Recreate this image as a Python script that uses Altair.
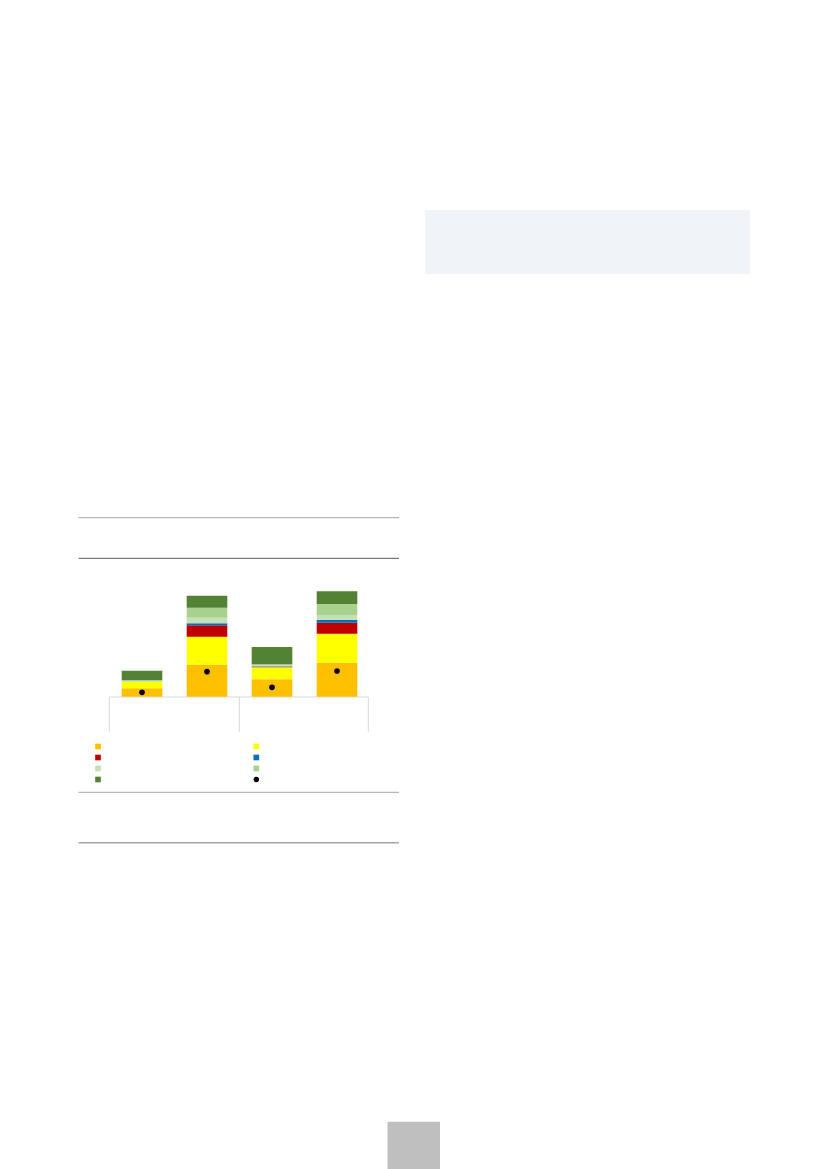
import altair as alt
import pandas as pd

# ---- data (no visible text in the picture) ----
categories = ["A-1", "A-2", "B-1", "B-2"]
series_names = ["Series 1", "Series 2", "Series 3", "Series 4",
                "Series 5", "Series 6", "Series 7"]
series_colors = ["#FFC000", "#FFFF00", "#C00000", "#0070C0",
                 "#C5E0B4", "#A9D18E", "#548235"]
s1 = [8.4, 32.0, 17.4, 34.0]
s2 = [6.6, 28.0, 12.0, 29.0]
s3 = [0.0, 11.4, 0.6, 11.0]
s4 = [0.0, 2.0, 0.4, 2.7]
s5 = [0.8, 5.6, 1.0, 5.0]
s6 = [0.8, 10.0, 1.0, 11.0]
s7 = [9.3, 12.0, 17.3, 12.7]
dot_name = "Total"
dot_values = [4.4, 25.0, 9.4, 25.7]

all_series = [s1, s2, s3, s4, s5, s6, s7]
rows = []
for idx, (name, vals) in enumerate(zip(series_names, all_series)):
    for cat, v in zip(categories, vals):
        rows.append({"category": cat, "series": name, "idx": idx, "value": v})
df = pd.DataFrame(rows)
dot_df = pd.DataFrame({"category": categories, "value": dot_values})
legend_df = pd.DataFrame({"name": series_names + [dot_name],
                          "i": list(range(len(series_names) + 1))})

x_scale = alt.Scale(domain=categories, range=[101.5, 361.5],
                    paddingInner=0.375, paddingOuter=0.1875)
y_scale = alt.Scale(domain=[0, 110], range=[688.7, 578.7], nice=False, zero=True)

bars = alt.Chart(df).mark_bar(opacity=1).encode(
    x=alt.X("category:N", scale=x_scale, axis=None),
    y=alt.Y("value:Q", scale=y_scale, axis=None, stack="zero"),
    color=alt.Color("series:N", scale=alt.Scale(domain=series_names, range=series_colors), legend=None),
    order=alt.Order("idx:Q"),
)

dots = alt.Chart(dot_df).mark_circle(size=32, color="black", opacity=1).encode(
    x=alt.X("category:N", scale=x_scale, axis=None),
    y=alt.Y("value:Q", scale=y_scale, axis=None),
)

leg_x = alt.Scale(domain=[0, 1], range=[90, 248.3])
leg_y = alt.Scale(domain=[0, 3], range=[738.5, 771.5])

leg_sq = alt.Chart(legend_df).transform_filter("datum.i < 7").transform_calculate(
    col="datum.i % 2", row="floor(datum.i / 2)"
).mark_square(size=32, opacity=1).encode(
    x=alt.X("col:Q", scale=leg_x, axis=None),
    y=alt.Y("row:Q", scale=leg_y, axis=None),
    color=alt.Color("name:N", scale=alt.Scale(domain=series_names, range=series_colors), legend=None),
)
leg_dot = alt.Chart(legend_df).transform_filter("datum.i == 7").transform_calculate(
    col="datum.i % 2", row="floor(datum.i / 2)"
).mark_circle(size=30, color="black", opacity=1).encode(
    x=alt.X("col:Q", scale=leg_x, axis=None),
    y=alt.Y("row:Q", scale=leg_y, axis=None),
)

one = pd.DataFrame({"d": [0]})


def hrule(y, color, w=1.0):
    return alt.Chart(one).mark_rule(color=color, strokeWidth=w).encode(
        x=alt.value(70.5), x2=alt.value(391), y=alt.value(y))


def box(x1, x2, y1, y2, color):
    return alt.Chart(one).mark_rect(color=color, opacity=1).encode(
        x=alt.value(x1), x2=alt.value(x2), y=alt.value(y1), y2=alt.value(y2))


def vline(x, y1, y2, color):
    return alt.Chart(one).mark_rule(color=color, strokeWidth=1).encode(
        x=alt.value(x), y=alt.value(y1), y2=alt.value(y2))


axis_line = alt.Chart(one).mark_rule(color="#d9d9d9", strokeWidth=1).encode(
    x=alt.value(101.3), x2=alt.value(360.3), y=alt.value(689))

deco = [
    box(417, 742, 202, 266, "#f0f4f9"),
    box(379.5, 432, 1113.7, 1161, "#bfbfbf"),
    hrule(509.7, "#a6a6a6"),
    hrule(550.3, "#595959"),
    hrule(784.3, "#a6a6a6"),
    hrule(834.7, "#a6a6a6", 1.5),
    axis_line,
    vline(101.3, 689, 723.7, "#d9d9d9"),
    vline(231.3, 689, 723.7, "#d9d9d9"),
    vline(360.3, 689, 723.7, "#d9d9d9"),
]

chart = alt.layer(*deco, bars, dots, leg_sq, leg_dot).resolve_scale(
    x="independent", y="independent", color="independent"
).properties(
    width=811, height=1161,
    autosize=alt.AutoSizeParams(type="none"),
    padding=0,
    background="white",
).configure_view(stroke=None)

chart.save("out.html", embed_options={"renderer": "svg", "actions": False})
